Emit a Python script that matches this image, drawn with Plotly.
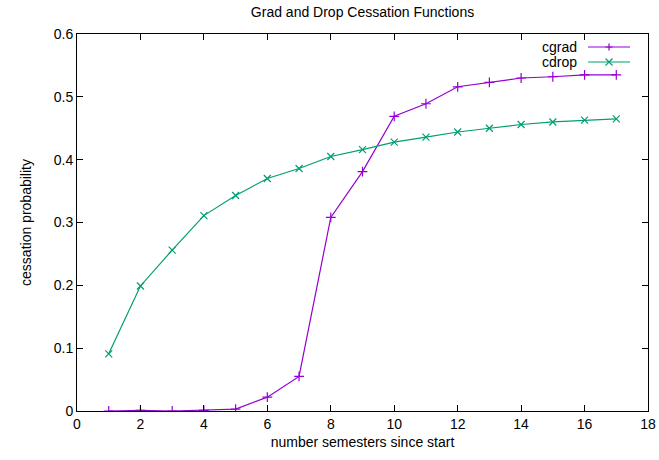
import plotly.graph_objects as go

semesters = list(range(1, 18))
cgrad = [0.0, 0.001, 0.0, 0.001, 0.003, 0.022, 0.055, 0.308, 0.381, 0.469,
         0.489, 0.516, 0.523, 0.530, 0.532, 0.535, 0.535]
cdrop = [0.091, 0.199, 0.256, 0.311, 0.343, 0.370, 0.386, 0.405, 0.416, 0.428,
         0.436, 0.444, 0.450, 0.456, 0.460, 0.463, 0.465]
series_names = ["cgrad", "cdrop"]
colors = ["#9400D3", "#009E73"]
symbols = ["cross-thin", "x-thin"]
x_ticks = [0, 2, 4, 6, 8, 10, 12, 14, 16, 18]
y_ticks = [0, 0.1, 0.2, 0.3, 0.4, 0.5, 0.6]
y_tick_labels = ["0", "0.1", "0.2", "0.3", "0.4", "0.5", "0.6"]

FONT = "Liberation Sans, Arial, sans-serif"
FS = 14
AX = "#000000"
PW, PH = 571.0, 377.0  # plot area size in px

fig = go.Figure()
for name, vals, col, sym in zip(series_names, [cgrad, cdrop], colors, symbols):
    fig.add_trace(go.Scatter(
        x=semesters, y=vals, name=name, mode="lines+markers",
        line=dict(color=col, width=1.2),
        marker=dict(symbol=sym, size=7, line=dict(color=col, width=1.2), color=col),
        showlegend=False,
    ))

axis_common = dict(
    showline=True, linecolor=AX, linewidth=1, mirror="ticks",
    ticks="inside", ticklen=6, tickcolor=AX, tickwidth=1,
    showgrid=False, zeroline=False,
    tickfont=dict(family=FONT, size=FS, color="black"),
    automargin=False,
)
fig.update_xaxes(range=[0, 18], tickvals=x_ticks,
                 title=dict(text="number semesters since start", font=dict(family=FONT, size=FS, color="black"), standoff=6),
                 **axis_common)
fig.update_yaxes(range=[0, 0.6], tickvals=y_ticks, ticktext=y_tick_labels,
                 title=dict(text="cessation probability", font=dict(family=FONT, size=FS, color="black"), standoff=18),
                 **axis_common)

# gnuplot-style key (text then sample line with marker)
key_y = [0.9655, 0.9257]
x0, x1 = 0.895, 0.9685
xm = (x0 + x1) / 2
dx = 3.5 / PW
dy = 3.5 / PH
for name, col, ky, sym in zip(series_names, colors, key_y, symbols):
    fig.add_annotation(x=0.879, y=ky, xref="paper", yref="paper", text=name,
                       showarrow=False, xanchor="right", yanchor="middle",
                       font=dict(family=FONT, size=FS, color="black"))
    fig.add_shape(type="line", xref="paper", yref="paper", x0=x0, x1=x1, y0=ky, y1=ky,
                  line=dict(color=col, width=1.2))
    if sym == "cross-thin":
        path = f"M{xm-dx},{ky} L{xm+dx},{ky} M{xm},{ky-dy} L{xm},{ky+dy}"
    else:
        path = f"M{xm-dx},{ky-dy} L{xm+dx},{ky+dy} M{xm-dx},{ky+dy} L{xm+dx},{ky-dy}"
    fig.add_shape(type="path", xref="paper", yref="paper", path=path,
                  line=dict(color=col, width=1.2))

fig.update_layout(
    title=dict(text="Grad and Drop Cessation Functions", x=0.5, xref="paper",
               y=0.974, yanchor="middle", font=dict(family=FONT, size=FS, color="black")),
    width=659, height=460,
    margin=dict(l=77, r=11, t=34, b=49, autoexpand=False),
    plot_bgcolor="white", paper_bgcolor="white",
    showlegend=False,
)

fig.write_html("out.html")
